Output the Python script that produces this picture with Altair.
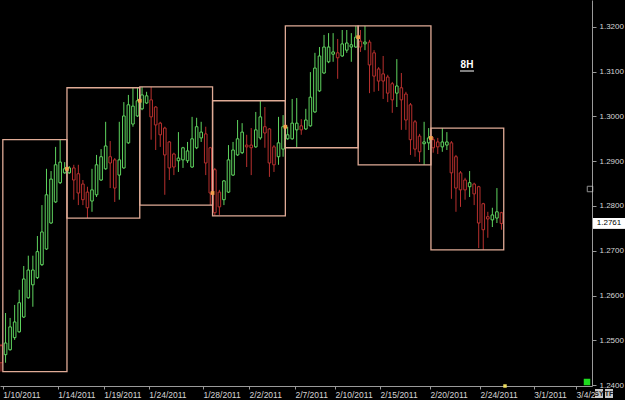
import json
import numpy as np
import pandas as pd
import altair as alt

# ---------------- data (8H candles) ----------------
opens = [
    1.2488, 1.2468, 1.2479, 1.2506, 1.2519, 1.2552, 1.2595, 1.2624, 1.2640, 1.2669, 1.2704, 1.2762, 1.2809, 1.2852, 1.2874,
    1.2874, 1.2885, 1.2872, 1.2849, 1.2831, 1.2811, 1.2825, 1.2858, 1.2883, 1.2910, 1.2903, 1.2869, 1.2885, 1.2941, 1.2983, 1.3001,
    1.3017, 1.3030, 1.3037, 1.3021, 1.2985, 1.2974, 1.2943, 1.2916, 1.2901, 1.2903, 1.2901, 1.2887, 1.2930, 1.2952, 1.2961, 1.2930,
    1.2881, 1.2831, 1.2814, 1.2831, 1.2869, 1.2914, 1.2919, 1.2936, 1.2936, 1.2932, 1.2952, 1.2977, 1.2972, 1.2932, 1.2910, 1.2927,
    1.2950, 1.2950, 1.2970, 1.2979, 1.2972, 1.2979, 1.3010, 1.3057, 1.3097, 1.3122, 1.3139, 1.3142, 1.3135, 1.3148, 1.3155, 1.3155,
    1.3168, 1.3162, 1.3166, 1.3142, 1.3106, 1.3095, 1.3088, 1.3073, 1.3052, 1.3064, 1.3050, 1.3026, 1.2988, 1.2956, 1.2939, 1.2941,
    1.2948, 1.2943, 1.2932, 1.2936, 1.2941, 1.2910, 1.2874, 1.2858, 1.2843, 1.2849, 1.2843, 1.2805, 1.2776, 1.2769, 1.2773, 1.2785,
]
highs = [
    1.2492, 1.2561, 1.2550, 1.2579, 1.2613, 1.2666, 1.2689, 1.2689, 1.2733, 1.2802, 1.2883, 1.2878, 1.2932, 1.2948, 1.2898,
    1.2889, 1.2892, 1.2892, 1.2858, 1.2843, 1.2883, 1.2914, 1.2927, 1.2988, 1.2945, 1.2907, 1.2988, 1.3032, 1.3048, 1.3064, 1.3064,
    1.3066, 1.3055, 1.3066, 1.3023, 1.2988, 1.2977, 1.2945, 1.2919, 1.2965, 1.2932, 1.2943, 1.2999, 1.2997, 1.2988, 1.2977, 1.2932,
    1.2885, 1.2836, 1.2858, 1.2936, 1.2943, 1.2992, 1.2985, 1.2959, 1.2974, 1.3010, 1.3035, 1.3021, 1.2974, 1.2936, 1.2999, 1.3003,
    1.2977, 1.3039, 1.3041, 1.2994, 1.3017, 1.3099, 1.3142, 1.3155, 1.3182, 1.3186, 1.3186, 1.3173, 1.3193, 1.3193, 1.3186, 1.3202,
    1.3193, 1.3202, 1.3171, 1.3148, 1.3110, 1.3135, 1.3093, 1.3077, 1.3128, 1.3097, 1.3055, 1.3030, 1.2992, 1.2961, 1.2988, 1.2974,
    1.2954, 1.2952, 1.2974, 1.2965, 1.2945, 1.2914, 1.2878, 1.2863, 1.2878, 1.2852, 1.2845, 1.2807, 1.2787, 1.2796, 1.2840, 1.2787,
]
lows = [
    1.2430, 1.2450, 1.2477, 1.2501, 1.2517, 1.2550, 1.2593, 1.2575, 1.2637, 1.2666, 1.2702, 1.2760, 1.2807, 1.2849, 1.2872,
    1.2872, 1.2814, 1.2802, 1.2802, 1.2773, 1.2787, 1.2820, 1.2856, 1.2881, 1.2840, 1.2809, 1.2814, 1.2883, 1.2939, 1.2977, 1.2999,
    1.3014, 1.3028, 1.2948, 1.2925, 1.2932, 1.2825, 1.2858, 1.2869, 1.2876, 1.2885, 1.2896, 1.2885, 1.2927, 1.2943, 1.2869, 1.2802,
    1.2778, 1.2780, 1.2802, 1.2829, 1.2867, 1.2912, 1.2916, 1.2887, 1.2869, 1.2930, 1.2948, 1.2930, 1.2865, 1.2876, 1.2892, 1.2910,
    1.2948, 1.2948, 1.2930, 1.2959, 1.2970, 1.2977, 1.3008, 1.3055, 1.3095, 1.3119, 1.3122, 1.3084, 1.3133, 1.3142, 1.3122, 1.3153,
    1.3144, 1.3148, 1.3052, 1.3055, 1.3057, 1.3039, 1.3032, 1.3008, 1.3021, 1.2970, 1.2970, 1.2914, 1.2910, 1.2898, 1.2892, 1.2925,
    1.2919, 1.2916, 1.2921, 1.2925, 1.2816, 1.2787, 1.2798, 1.2814, 1.2820, 1.2802, 1.2706, 1.2702, 1.2729, 1.2753, 1.2762, 1.2747,
]
closes = [
    1.2450, 1.2494, 1.2530, 1.2541, 1.2584, 1.2637, 1.2657, 1.2657, 1.2698, 1.2742, 1.2825, 1.2860, 1.2892, 1.2898, 1.2883,
    1.2885, 1.2858, 1.2829, 1.2814, 1.2796, 1.2836, 1.2892, 1.2910, 1.2934, 1.2896, 1.2840, 1.2903, 1.3001, 1.3026, 1.3023, 1.3035,
    1.3048, 1.3046, 1.2999, 1.2981, 1.2959, 1.2914, 1.2885, 1.2887, 1.2907, 1.2930, 1.2923, 1.2950, 1.2977, 1.2965, 1.2896, 1.2829,
    1.2785, 1.2798, 1.2856, 1.2903, 1.2925, 1.2950, 1.2965, 1.2932, 1.2930, 1.2970, 1.2999, 1.2963, 1.2896, 1.2892, 1.2941, 1.2977,
    1.2959, 1.2985, 1.2985, 1.2970, 1.2992, 1.3043, 1.3108, 1.3135, 1.3155, 1.3155, 1.3144, 1.3131, 1.3162, 1.3164, 1.3160, 1.3177,
    1.3155, 1.3166, 1.3115, 1.3090, 1.3079, 1.3079, 1.3052, 1.3037, 1.3068, 1.3037, 1.2992, 1.2948, 1.2927, 1.2921, 1.2943, 1.2952,
    1.2930, 1.2932, 1.2943, 1.2943, 1.2874, 1.2840, 1.2836, 1.2836, 1.2852, 1.2827, 1.2762, 1.2747, 1.2771, 1.2780, 1.2787, 1.2761,
]

# weekly boxes: slot boundaries (bar index units)
box_start = [0.4, 14.5, 30.5, 46.5, 62.5, 78.5, 94.5]
box_end = [14.5, 30.5, 46.5, 62.5, 78.5, 94.5, 110.5]

# x-axis date ticks (bar index units) and their labels
tick_pos = [0.4, 12.5, 22.6, 32.5, 44.4, 54.5, 64.6, 73.4, 83.3, 94.3, 105.3, 117.1, 126.4]
tick_lab = ["1/10/2011", "1/14/2011", "1/19/2011", "1/24/2011", "1/28/2011", "2/2/2011",
            "2/7/2011", "2/10/2011", "2/15/2011", "2/20/2011", "2/24/2011", "3/1/2011", "3/4/20"]
price_ticks = [1.24, 1.25, 1.26, 1.27, 1.28, 1.29, 1.30, 1.31, 1.32]

# ---------------- tables ----------------
n = len(opens)
df = pd.DataFrame({"slot": np.arange(n), "open": opens, "high": highs, "low": lows, "close": closes})
df["dir"] = np.where(df["close"] >= df["open"], "up", "down")

bidx = np.searchsorted(np.array(box_end), df["slot"].values, side="right")
df["box"] = bidx
agg = df.groupby("box").agg(hi=("high", "max"), lo=("low", "min")).reset_index()
boxes = pd.DataFrame({"box": range(len(box_start)), "start": box_start, "end": box_end}).merge(agg, on="box")

# previous-week close markers at each week boundary
mk = []
for s in box_start[1:]:
    prev = df[df["slot"] < s].iloc[-1]
    mk.append({"pos": s, "price": prev["close"]})
markers = pd.DataFrame(mk)

last = pd.DataFrame({"close": [closes[-1]], "label": [f"{closes[-1]:.4f}"]})
one = pd.DataFrame({"k": [0]})

UP, DOWN = "#5fd45f", "#b8302e"
BOXC = "#e0ab96"
AXC = "#9a9a9a"
LABC = "#d6d6d6"
FONT = "Liberation Sans"

xscale = alt.Scale(domain=[-0.22, 129.9], nice=False, zero=False, padding=0)
yscale = alt.Scale(domain=[1.2398, 1.3260], nice=False, zero=False, padding=0)
cscale = alt.Scale(domain=["up", "down"], range=[UP, DOWN])

label_expr = f"{json.dumps(tick_lab)}[indexof({json.dumps(tick_pos)}, datum.value)]"

xaxis = alt.Axis(values=tick_pos, labelExpr=label_expr, title=None, grid=False,
                 domainColor=AXC, tickColor=AXC, labelColor=LABC, labelFont=FONT,
                 labelFontSize=8.5, labelAlign="left", labelBaseline="top", labelPadding=1,
                 tickSize=3, labelOverlap=False, labelFlush=False)
yaxis = alt.Axis(orient="right", values=price_ticks, format=".4f", title=None, grid=False,
                 domainColor=AXC, tickColor=AXC, labelColor=LABC, labelFont=FONT,
                 labelFontSize=8, labelPadding=3, tickSize=4, labelOverlap=False, labelFlush=False)

base = alt.Chart(df)

wicks = base.mark_rule(strokeWidth=1).encode(
    x=alt.X("slot:Q", scale=xscale, axis=xaxis),
    y=alt.Y("low:Q", scale=yscale, axis=yaxis),
    y2="high:Q",
    color=alt.Color("dir:N", scale=cscale, legend=None),
)

bodies = base.mark_bar(size=2.6, fill="black", strokeWidth=1).encode(
    x="slot:Q",
    y="open:Q",
    y2="close:Q",
    stroke=alt.Stroke("dir:N", scale=cscale, legend=None),
)

box_layer = alt.Chart(boxes).mark_rect(fillOpacity=0, stroke=BOXC, strokeWidth=1.3).encode(
    x="start:Q", x2="end:Q", y="lo:Q", y2="hi:Q"
)

marker_layer = alt.Chart(markers).mark_square(size=14, color="#f3a04e", opacity=1).encode(
    x="pos:Q", y="price:Q"
)

price_box = alt.Chart(last).mark_point(
    shape="M-1,-0.34L1,-0.34L1,0.34L-1,0.34Z", filled=True, color="white", size=1024, opacity=1
).encode(x=alt.value(609), y="close:Q")
price_txt = alt.Chart(last).mark_text(color="black", font=FONT, fontSize=8).encode(
    x=alt.value(609), y="close:Q", text="label:N"
)

tf_txt = alt.Chart(one).mark_text(text="8H", color="white", font=FONT, fontSize=10, fontWeight="bold").encode(
    x=alt.value(467), y=alt.value(65)
)
tf_ul = alt.Chart(one).mark_rule(color="white", strokeWidth=1).encode(
    x=alt.value(460), x2=alt.value(474), y=alt.value(71)
)

green_sq = alt.Chart(one).mark_square(size=42, color="#1fdc1f", opacity=1).encode(
    x=alt.value(587), y=alt.value(382)
)
icon = alt.Chart(one).mark_square(size=30, filled=False, color="#cfcfcf", strokeWidth=1).encode(
    x=alt.value(590), y=alt.value(189)
)
now_mark = alt.Chart(one).mark_square(size=12, color="#f0e060", opacity=1).encode(
    x=alt.value(505), y=alt.value(386)
)
btn = alt.Chart(pd.DataFrame({"a": [595, 605], "b": [603, 613], "t": ["SY", "TF"], "c": [599, 609]}))
btn_rect = btn.mark_rect(color="#c8c8c8").encode(
    x=alt.X("a:Q", scale=None), x2="b:Q", y=alt.value(389), y2=alt.value(398)
)
btn_txt = btn.mark_text(color="#202020", font=FONT, fontSize=7, fontWeight="bold").encode(
    x=alt.X("c:Q", scale=None), y=alt.value(394), text="t:N"
)

chart = alt.layer(
    wicks, bodies, box_layer, marker_layer, price_box, price_txt,
    tf_txt, tf_ul, green_sq, icon, now_mark, btn_rect, btn_txt
).properties(
    width=592, height=386,
    autosize=alt.AutoSizeParams(type="none"),
    padding={"left": 0, "top": 0, "right": 33, "bottom": 14},
    background="black",
).configure_view(strokeWidth=0)

chart.save("out.html", embed_options={"renderer": "svg", "actions": False})
